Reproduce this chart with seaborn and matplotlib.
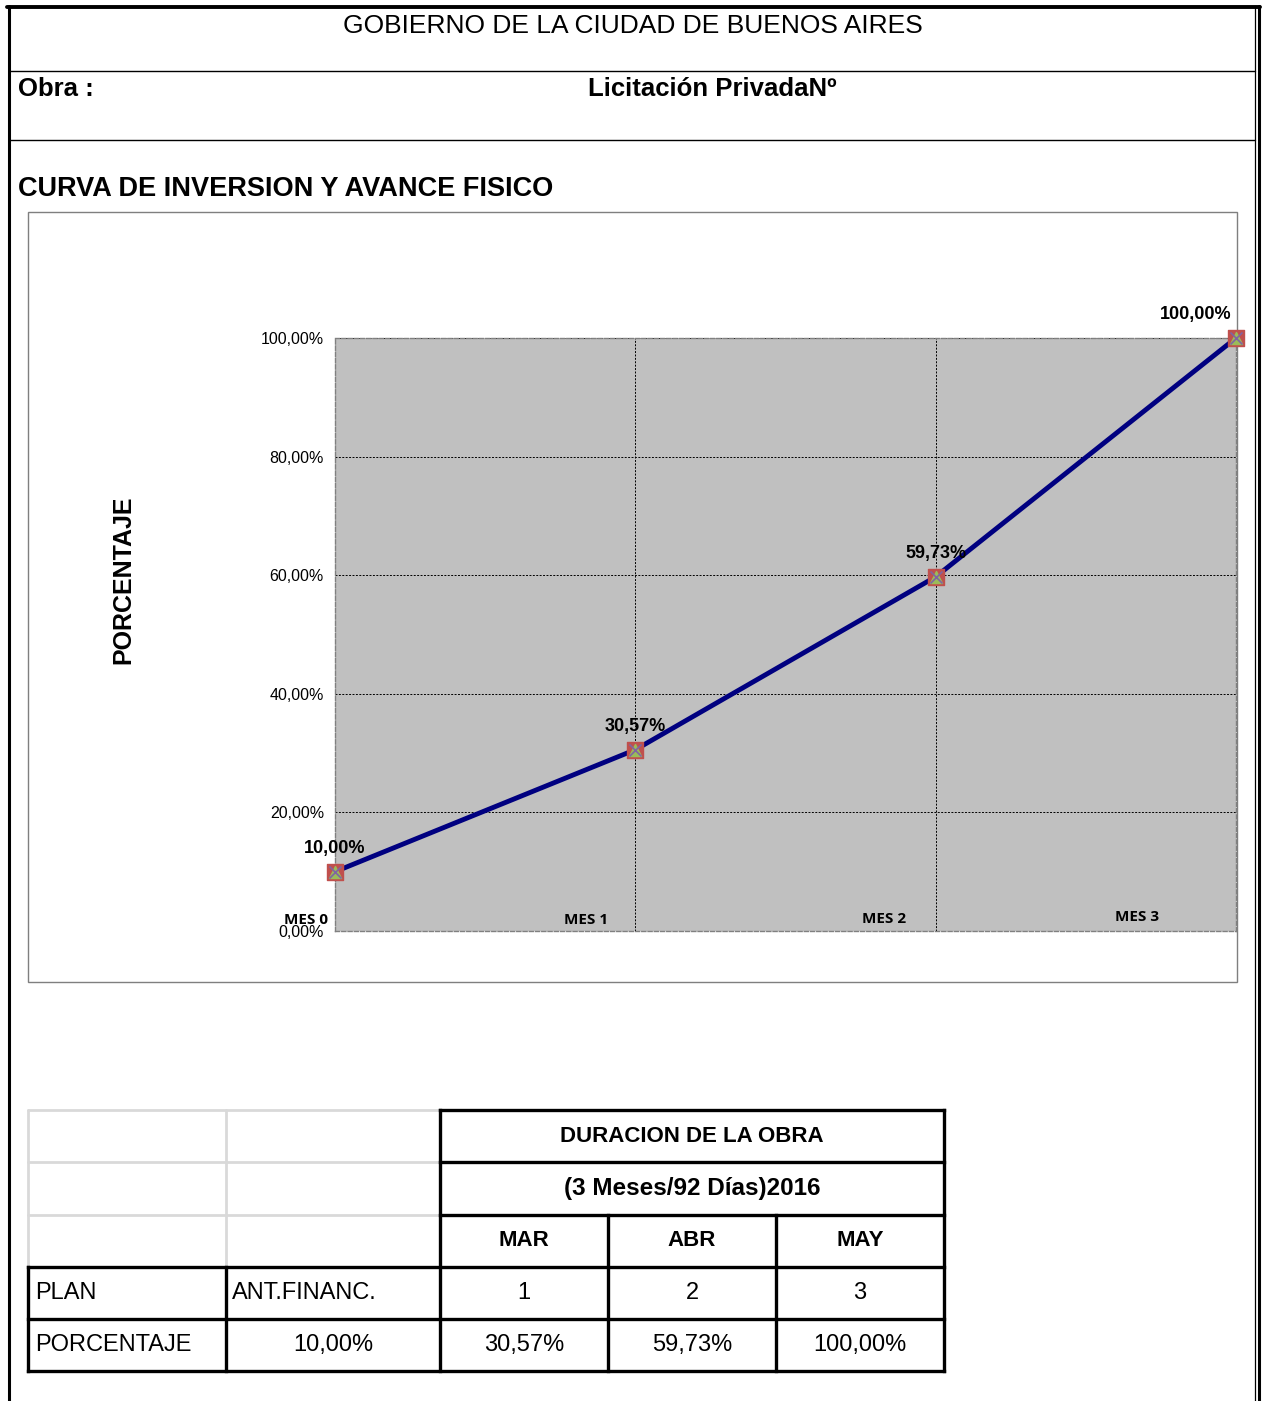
import matplotlib
matplotlib.use("Agg")
import matplotlib.pyplot as plt
import seaborn as sns
import pandas as pd
import numpy as np

# ---- data ----
meses = ["MES 0", "MES 1", "MES 2", "MES 3"]
porcentaje = [10.00, 30.57, 59.73, 100.00]
tabla_meses = ["MAR", "ABR", "MAY"]
tabla_plan = ["ANT.FINANC.", "1", "2", "3"]
yticks = [0, 20, 40, 60, 80, 100]

def fmt(v):
    return f"{v:.2f}".replace(".", ",") + "%"

sns.set_style("white")
plt.rcParams['font.family'] = ['Liberation Sans', 'DejaVu Sans']
plt.rcParams['text.color'] = 'black'
plt.rcParams['ytick.labelcolor'] = 'black'
plt.rcParams['ytick.color'] = 'black'

W, H = 1267, 1401
fig = plt.figure(figsize=(W / 100, H / 100), dpi=100)
bg = fig.add_axes([0, 0, 1, 1])
bg.set_xlim(0, W)
bg.set_ylim(H, 0)
bg.axis("off")

# outer frame
bg.plot([8.5, 8.5], [6, H], color="black", lw=2.2)
bg.plot([7, 1260], [6.5, 6.5], color="black", lw=2.8)
bg.plot([1255, 1255], [6, H], color="black", lw=0.9)
bg.plot([1258.5, 1258.5], [6, H], color="black", lw=2.2)
bg.plot([9, 1255], [71, 71], color="black", lw=1)
bg.plot([9, 1255], [140, 140], color="black", lw=1)

bg.text(633, 26, "GOBIERNO DE LA CIUDAD DE BUENOS AIRES", ha="center", va="center", fontsize=19)
bg.text(18, 89, "Obra :", ha="left", va="center", fontsize=18.5, fontweight="bold")
bg.text(588, 89, "Licitación PrivadaNº", ha="left", va="center", fontsize=18.5, fontweight="bold")
bg.text(18, 189, "CURVA DE INVERSION Y AVANCE FISICO", ha="left", va="center", fontsize=19.5, fontweight="bold")

# chart frame
bg.add_patch(plt.Rectangle((28, 212), 1209, 770, fill=False, edgecolor="#7f7f7f", lw=1))
bg.text(123, 580, "PORCENTAJE", rotation=90, ha="center", va="center", fontsize=18, fontweight="bold")

# ---- chart ----
x0, x1, y0, y1 = 335, 1236, 338, 931
ax = fig.add_axes([x0 / W, 1 - y1 / H, (x1 - x0) / W, (y1 - y0) / H])
ax.set_facecolor("#C0C0C0")
df = pd.DataFrame({"x": np.arange(len(meses)), "pct": porcentaje, "mes": meses})
sns.lineplot(data=df, x="x", y="pct", ax=ax, color="#000080", lw=3.5, zorder=3)
ax.scatter(df["x"], df["pct"], marker="s", s=120, color="#C0504D", zorder=4, clip_on=False)
ax.scatter(df["x"], df["pct"], marker="^", s=75, color="#9BBB59", zorder=5, clip_on=False)
ax.scatter(df["x"], df["pct"], marker="x", s=75, color="#8064A2", lw=1.2, zorder=6, clip_on=False)
ax.set_xlim(0, 3)
ax.set_ylim(0, 100)
ax.set_yticks(yticks)
ax.set_yticklabels([fmt(v) for v in yticks], fontsize=11.5)
ax.set_xticks([])
ax.set_xlabel("")
ax.set_ylabel("")
for v in yticks[1:]:
    ax.axhline(v, color="black", lw=0.7, ls=(0, (2, 1.5)), zorder=1)
for i in [1, 2]:
    ax.axvline(i, color="black", lw=0.7, ls=(0, (2, 1.5)), zorder=1)
for s in ax.spines.values():
    s.set_color("#808080")
    s.set_linewidth(1)
    s.set_linestyle((0, (3, 1.5)))
ax.tick_params(axis="y", length=4, color="black", pad=4)
ax.tick_params(axis="x", length=0)

# data labels
offs = [(0, 23), (0, 23), (0, 23), (-40, 23)]
for i, v in enumerate(porcentaje):
    ax.annotate(fmt(v), (i, v), xytext=offs[i], textcoords="offset pixels",
                ha="center", va="center", fontsize=13, fontweight="bold", zorder=7, annotation_clip=False)

# category labels (placed inside plot near bottom)
mes_pos = [(-0.097, 1.85), (0.837, 1.85), (1.827, 2.0), (2.67, 2.36)]
for lbl, (px, py) in zip(meses, mes_pos):
    ax.text(px, py, lbl, ha="center", va="center", fontsize=11, fontweight="bold",
            family=["Open Sans", "DejaVu Sans"], clip_on=False, zorder=7)

# ---- table ----
cols = [28, 226, 440, 608, 776, 944]
rows = [1110, 1162, 1215, 1267, 1319, 1371]
light = "#d9d9d9"
for r in rows[:4]:
    bg.plot([cols[0], cols[2]], [r, r], color=light, lw=2)
for c in cols[:3]:
    bg.plot([c, c], [rows[0], rows[3]], color=light, lw=2)
blk = dict(color="black", lw=2.4, solid_capstyle="projecting")
bg.plot([cols[2], cols[5]], [rows[0], rows[0]], **blk)
bg.plot([cols[2], cols[5]], [rows[1], rows[1]], **blk)
bg.plot([cols[2], cols[5]], [rows[2], rows[2]], **blk)
bg.plot([cols[0], cols[5]], [rows[3], rows[3]], **blk)
bg.plot([cols[0], cols[5]], [rows[4], rows[4]], **blk)
bg.plot([cols[0], cols[5]], [rows[5], rows[5]], **blk)
bg.plot([cols[2], cols[2]], [rows[0], rows[5]], **blk)
bg.plot([cols[5], cols[5]], [rows[0], rows[5]], **blk)
for c in cols[3:5]:
    bg.plot([c, c], [rows[2], rows[5]], **blk)
for c in cols[:2]:
    bg.plot([c, c], [rows[3], rows[5]], **blk)

tfs = 17
cx = lambda i: (cols[i] + cols[i + 1]) / 2
cy = lambda j: (rows[j] + rows[j + 1]) / 2
bg.text((cols[2] + cols[5]) / 2, cy(0), "DURACION DE LA OBRA", ha="center", va="center", fontsize=16, fontweight="bold")
bg.text((cols[2] + cols[5]) / 2, cy(1), "(3 Meses/92 Días)2016", ha="center", va="center", fontsize=17.5, fontweight="bold")
for k, m in enumerate(tabla_meses):
    bg.text(cx(2 + k), cy(2), m, ha="center", va="center", fontsize=16, fontweight="bold")
bg.text(35, cy(3), "PLAN", ha="left", va="center", fontsize=tfs)
bg.text(232, cy(3), tabla_plan[0], ha="left", va="center", fontsize=tfs)
for k, p in enumerate(tabla_plan[1:]):
    bg.text(cx(2 + k), cy(3), p, ha="center", va="center", fontsize=tfs)
bg.text(35, cy(4), "PORCENTAJE", ha="left", va="center", fontsize=tfs)
for k, v in enumerate(porcentaje):
    bg.text(cx(1 + k), cy(4), fmt(v), ha="center", va="center", fontsize=tfs)

fig.savefig("out.png", dpi=100)
